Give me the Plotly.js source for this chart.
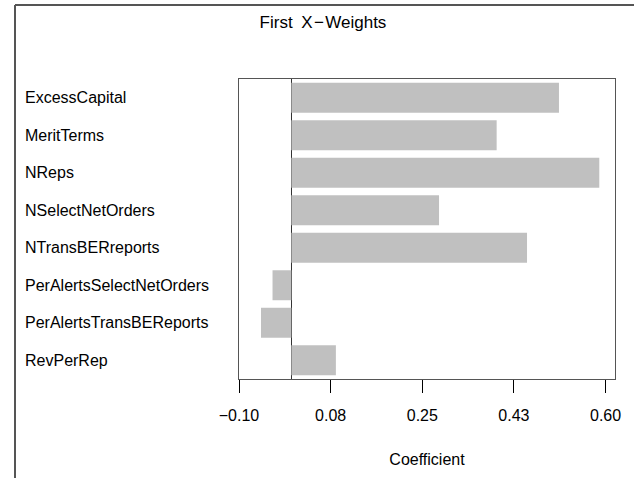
<!DOCTYPE html>
<html>
<head>
<meta charset="utf-8">
<script src="https://cdn.plot.ly/plotly-3.0.1.min.js"></script>
<style>
  html, body { margin: 0; padding: 0; background: #fff; }
  #chart { width: 634px; height: 478px; }
</style>
</head>
<body>
<div id="chart"></div>
<script>
// Variables of the first X-weight vector and their coefficients
const variables = [
  "ExcessCapital",
  "MeritTerms",
  "NReps",
  "NSelectNetOrders",
  "NTransBERreports",
  "PerAlertsSelectNetOrders",
  "PerAlertsTransBEReports",
  "RevPerRep"
];
const coefficients = [0.511, 0.392, 0.588, 0.282, 0.450, -0.036, -0.058, 0.085];

// Axis ticks
const tickValues = [-0.10, 0.075, 0.25, 0.425, 0.60];
const tickLabels = ["\u22120.10", "0.08", "0.25", "0.43", "0.60"];

const W = 634, H = 478;
const M = { l: 239, r: 19, t: 79, b: 99 };
const plotW = W - M.l - M.r, plotH = H - M.t - M.b;
const px2x = px => (px - M.l) / plotW;
const px2y = py => (H - M.b - py) / plotH;

const font = "Liberation Sans, Arial, Helvetica, sans-serif";

const trace = {
  type: "bar",
  orientation: "h",
  x: coefficients,
  y: variables,
  marker: { color: "#c0c0c0", line: { width: 0 } },
  hoverinfo: "x+y"
};

// Variable names, left aligned in the margin
const nameLabels = variables.map(v => ({
  text: v,
  xref: "paper", yref: "y",
  x: px2x(23), y: v,
  xanchor: "left", yanchor: "middle",
  showarrow: false,
  font: { family: font, size: 16, color: "#000" }
}));

const layout = {
  width: W, height: H,
  margin: M,
  paper_bgcolor: "#fff",
  plot_bgcolor: "#fff",
  showlegend: false,
  bargap: 0.2,
  font: { family: font, size: 16, color: "#000" },
  title: {
    text: "First\u2002X\u200A\u2212\u200AWeights",
    x: px2x(323), xref: "paper", xanchor: "center",
    y: 1 - 22 / H, yref: "container", yanchor: "middle",
    font: { family: font, size: 17, color: "#000" }
  },
  xaxis: {
    range: [-0.1, 0.618],
    tickmode: "array",
    tickvals: tickValues,
    ticktext: tickLabels,
    ticks: "outside", ticklen: 13, tickwidth: 1, tickcolor: "#000",
    ticklabelstandoff: 9,
    showgrid: false,
    zeroline: true, zerolinecolor: "#333", zerolinewidth: 1,
    showline: true, linecolor: "#555", linewidth: 1, mirror: true,
    tickfont: { family: font, size: 16, color: "#000" },
    title: { text: "Coefficient", standoff: 30, font: { family: font, size: 16, color: "#000" } },
    fixedrange: true
  },
  yaxis: {
    type: "category",
    range: [7.5, -0.5],
    showticklabels: false,
    ticks: "",
    showgrid: false,
    zeroline: false,
    showline: true, linecolor: "#555", linewidth: 1, mirror: true,
    fixedrange: true
  },
  annotations: nameLabels,
  shapes: [
    // outer frame: left and top edges
    { type: "line", xref: "paper", yref: "paper",
      x0: px2x(15), x1: px2x(15), y0: px2y(490), y1: px2y(5),
      line: { color: "#555", width: 2 } },
    { type: "line", xref: "paper", yref: "paper",
      x0: px2x(15), x1: px2x(640), y0: px2y(5), y1: px2y(5),
      line: { color: "#555", width: 2 } }
  ]
};

Plotly.newPlot("chart", [trace], layout, { displayModeBar: false, staticPlot: true });
</script>
</body>
</html>
